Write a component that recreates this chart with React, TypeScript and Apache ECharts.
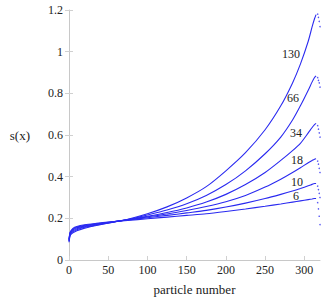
import React, { useEffect, useRef } from "react";
import * as echarts from "echarts";

// particle-number positions of the read-off points (main curve)
const xs = [0, 1, 2, 5, 10, 20, 35, 50, 75, 100, 125, 150, 175, 200, 225, 250, 270, 285, 295, 305, 310, 313, 315];
// trailing points after each peak (drawn as dots)
const tailX = [317, 318, 319, 320];

const curveNames = ["130", "66", "34", "18", "10", "6"];

const s130 = [0.085, 0.11, 0.12, 0.13, 0.14, 0.153, 0.166, 0.177, 0.196, 0.222, 0.255, 0.298, 0.352, 0.428, 0.515, 0.625, 0.74, 0.85, 0.94, 1.05, 1.12, 1.158, 1.178];
const s66 = [0.09, 0.115, 0.125, 0.135, 0.145, 0.157, 0.168, 0.178, 0.194, 0.216, 0.24, 0.27, 0.31, 0.362, 0.428, 0.51, 0.59, 0.672, 0.74, 0.815, 0.855, 0.876, 0.884];
const s34 = [0.092, 0.118, 0.128, 0.14, 0.15, 0.16, 0.17, 0.179, 0.194, 0.21, 0.228, 0.25, 0.278, 0.315, 0.362, 0.42, 0.478, 0.525, 0.56, 0.61, 0.636, 0.65, 0.656];
const s18 = [0.095, 0.122, 0.132, 0.145, 0.155, 0.163, 0.172, 0.18, 0.193, 0.207, 0.221, 0.238, 0.257, 0.28, 0.31, 0.35, 0.388, 0.42, 0.443, 0.467, 0.478, 0.484, 0.486];
const s10 = [0.098, 0.125, 0.135, 0.148, 0.158, 0.166, 0.174, 0.181, 0.192, 0.203, 0.214, 0.226, 0.238, 0.254, 0.273, 0.295, 0.315, 0.331, 0.343, 0.356, 0.363, 0.367, 0.367];
const s6 = [0.1, 0.128, 0.138, 0.152, 0.161, 0.169, 0.176, 0.182, 0.19, 0.198, 0.206, 0.214, 0.222, 0.233, 0.245, 0.258, 0.269, 0.278, 0.284, 0.29, 0.293, 0.295, 0.295];

const t130 = [1.18, 1.165, 1.145, 1.12];
const t66 = [0.875, 0.862, 0.85, 0.83];
const t34 = [0.645, 0.628, 0.61, 0.59];
const t18 = [0.475, 0.46, 0.44, 0.42];
const t10 = [0.355, 0.338, 0.32, 0.3];
const t6 = [0.275, 0.245, 0.21, 0.17];

const yTicks = [0, 0.2, 0.4, 0.6, 0.8, 1, 1.2];

const FONT = "'Liberation Serif', 'DejaVu Serif', serif";
const BLUE = "#2a2af0";

export default function App() {
  const ref = useRef<HTMLDivElement>(null);

  useEffect(() => {
    document.body.style.margin = "0";
    if (!ref.current) return;
    const chart = echarts.init(ref.current, null, { renderer: "svg" });

    const mains = [s130, s66, s34, s18, s10, s6];
    const tails = [t130, t66, t34, t18, t10, t6];

    const series: any[] = [];
    mains.forEach((vals, k) => {
      series.push({
        type: "line",
        name: curveNames[k],
        data: xs.map((x, i) => [x, vals[i]]),
        showSymbol: false,
        smooth: 0.25,
        lineStyle: { color: BLUE, width: 1.1 },
        itemStyle: { color: BLUE },
        silent: true,
        z: 3,
      });
      series.push({
        type: "scatter",
        name: curveNames[k] + " tail",
        data: tailX.map((x, i) => [x, tails[k][i]]),
        symbolSize: 1.5,
        itemStyle: { color: BLUE },
        silent: true,
        z: 3,
      });
    });

    const labelPos: [number, number][] = [
      [291, 54],
      [293, 98],
      [296, 133],
      [297, 160],
      [297, 182],
      [296, 196],
    ];

    chart.setOption({
      animation: false,
      backgroundColor: "#ffffff",
      textStyle: { fontFamily: FONT },
      grid: { left: 69, right: 5, top: 10, bottom: 45, containLabel: false },
      xAxis: [
        {
          type: "value",
          min: 0,
          max: 320,
          interval: 50,
          position: "bottom",
          name: "particle number",
          nameLocation: "middle",
          nameGap: 23,
          nameTextStyle: { fontFamily: FONT, fontSize: 13, color: "#222" },
          axisLine: { show: false },
          axisTick: { show: true, inside: true, length: 4, lineStyle: { color: "#d0d0d0" } },
          axisLabel: { fontFamily: FONT, fontSize: 12, color: "#222", margin: 4, showMaxLabel: false },
          splitLine: { show: false },
        },
        {
          type: "value",
          min: 0,
          max: 320,
          interval: 50,
          position: "top",
          axisLine: { show: true, lineStyle: { color: "#c8c8c8", width: 1 } },
          axisTick: { show: false },
          axisLabel: { show: false },
          splitLine: { show: false },
        },
      ],
      yAxis: [
        {
          type: "value",
          min: yTicks[0],
          max: yTicks[yTicks.length - 1],
          interval: 0.2,
          position: "left",
          name: "s(x)",
          nameLocation: "middle",
          nameRotate: 0,
          nameGap: 39,
          nameTextStyle: { fontFamily: FONT, fontSize: 13, color: "#222", align: "right" },
          axisLine: { show: true, lineStyle: { color: "#c8c8c8", width: 1 } },
          axisTick: { show: true, inside: true, length: 4, lineStyle: { color: "#d0d0d0" } },
          axisLabel: { fontFamily: FONT, fontSize: 12, color: "#222", margin: 6 },
          splitLine: { show: false },
        },
        {
          type: "value",
          min: yTicks[0],
          max: yTicks[yTicks.length - 1],
          interval: 0.2,
          position: "right",
          axisLine: { show: false },
          axisTick: { show: true, inside: true, length: 4, lineStyle: { color: "#d0d0d0" } },
          axisLabel: { show: false },
          splitLine: { show: false },
        },
      ],
      graphic: curveNames.map((n, k) => ({
        type: "text",
        x: labelPos[k][0],
        y: labelPos[k][1],
        z: 10,
        style: {
          text: n,
          fontFamily: FONT,
          fontSize: 12,
          fill: "#222",
          align: "center",
          verticalAlign: "middle",
        },
      })),
      series,
    });

    return () => chart.dispose();
  }, []);

  return <div ref={ref} style={{ width: 325, height: 305 }} />;
}
